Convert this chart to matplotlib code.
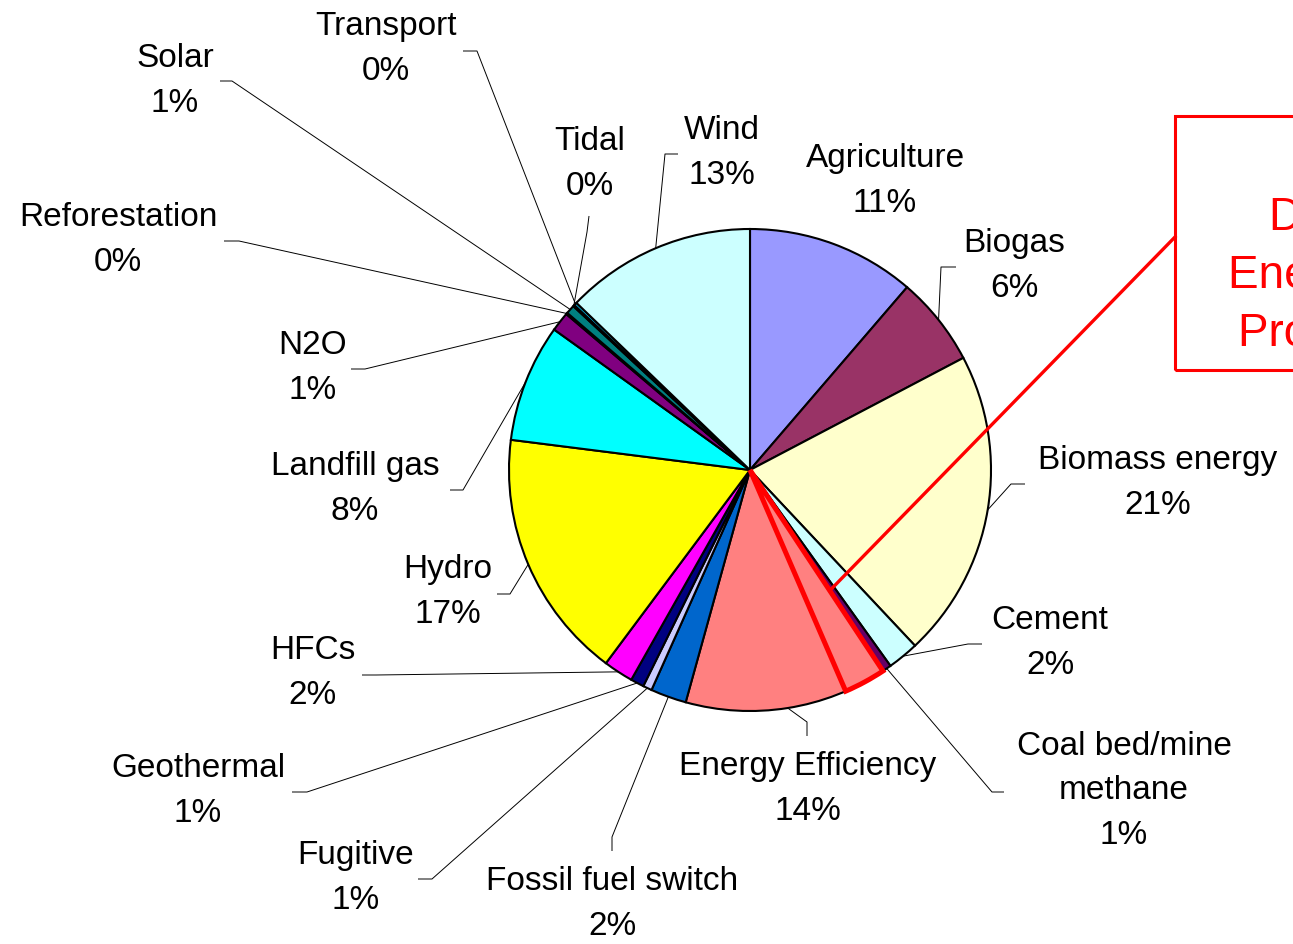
import numpy as np
import matplotlib
matplotlib.use("Agg")
import matplotlib.pyplot as plt
from matplotlib.patches import Wedge, Rectangle

plt.rcParams['font.family'] = ['Liberation Sans', 'DejaVu Sans']

# Data (share of projects, %)
sectors = ["Agriculture", "Biogas", "Biomass energy", "Cement",
           "Coal bed/mine\nmethane", "Energy Efficiency", "Fossil fuel switch",
           "Fugitive", "Geothermal", "HFCs", "Hydro", "Landfill gas", "N2O",
           "Reforestation", "Solar", "Tidal", "Transport", "Wind"]
shares = [11.3, 6.0, 20.7, 2.1, 0.6, 13.6, 2.4, 0.6, 0.9, 2.0,
          16.8, 7.9, 1.3, 0.1, 0.6, 0.1, 0.2, 12.8]
colors = ["#9999FF", "#993366", "#FFFFCC", "#CCFFFF", "#660066", "#FF8080",
          "#0066CC", "#CCCCFF", "#000080", "#FF00FF", "#FFFF00", "#00FFFF",
          "#800080", "#800000", "#008080", "#0000FF", "#00CCFF", "#CCFFFF"]
# part of Energy Efficiency that is demand-side
ee_highlight = 2.8
callout_text = "Demand-side\nEnergy Efficiency\nProject Activities"

W, H = 1293, 945
def Y(y):
    # picture coords (y down) -> axes coords (y up)
    return H - y

cx, cy, R = 750, Y(471), 241

# label layout: text centre, elbow, end of horizontal leader (picture coords)
label_pos = {
    "Agriculture": ((885, 181), None, None),
    "Biogas": ((1014, 266), (941, 268), (956, 268)),
    "Biomass energy": ((1158, 483), (1011, 485), (1025, 485)),
    "Cement": ((1050, 643), (968, 645), (982, 645)),
    "Coal bed/mine\nmethane": ((1124, 791), (992, 793), (1004, 793)),
    "Energy Efficiency": ((808, 789), (807, 723), (807, 737)),
    "Fossil fuel switch": ((612, 904), (612, 838), (612, 852)),
    "Fugitive": ((356, 878), (432, 880), (418, 880)),
    "Geothermal": ((198, 791), (307, 793), (292, 793)),
    "HFCs": ((313, 673), (376, 676), (362, 676)),
    "Hydro": ((448, 592), (510, 595), (497, 595)),
    "Landfill gas": ((355, 489), (463, 491), (450, 491)),
    "N2O": ((313, 368), (365, 370), (351, 370)),
    "Reforestation": ((118, 240), (239, 242), (224, 242)),
    "Solar": ((175, 81), (232, 82), (220, 82)),
    "Tidal": ((590, 164), (587, 233), (589, 217)),
    "Transport": ((386, 49), (477, 52), (463, 52)),
    "Wind": ((722, 153), (665, 155), (678, 155)),
}

fig = plt.figure(figsize=(W / 100, H / 100), dpi=100)
ax = fig.add_axes([0, 0, 1, 1])

wedges, _ = ax.pie(shares, colors=colors, startangle=90, counterclock=False,
                   center=(cx, cy), radius=R,
                   wedgeprops=dict(edgecolor="black", linewidth=1.5))

for name, v, w in zip(sectors, shares, wedges):
    (tx, ty), elbow, end = label_pos[name]
    ax.text(tx, Y(ty), f"{name}\n{round(v)}%", ha="center", va="center",
            fontsize=24, linespacing=1.55, color="black")
    if elbow is None:
        continue
    mid = np.deg2rad((w.theta1 + w.theta2) / 2)
    rx, ry = cx + R * np.cos(mid), cy + R * np.sin(mid)
    ax.plot([rx, elbow[0], end[0]], [ry, Y(elbow[1]), Y(end[1])],
            color="black", lw=0.7, solid_capstyle="butt")

# highlighted part of the Energy Efficiency slice
ee = wedges[sectors.index("Energy Efficiency")]
t2 = ee.theta2
t1 = t2 - 360 * ee_highlight / 100
ax.add_patch(Wedge((cx, cy), R, t1, t2, facecolor="none", edgecolor="red",
                   linewidth=3.6, joinstyle="miter"))

# callout box and connector
sx = cx + 0.6 * R * np.cos(np.deg2rad(t2))
sy = cy + 0.6 * R * np.sin(np.deg2rad(t2))
ax.plot([sx, 1175], [sy, Y(238)], color="red", lw=2.4)
ax.add_patch(Rectangle((1175, Y(371)), 500, 254, facecolor="none",
                       edgecolor="red", linewidth=2.2))
ax.text(1405, Y(276), callout_text, ha="center", va="center", color="red",
        fontsize=33, linespacing=1.4)

ax.set_xlim(0, W)
ax.set_ylim(0, H)
ax.set_aspect("equal")
ax.axis("off")

fig.savefig("out.png", dpi=100)
